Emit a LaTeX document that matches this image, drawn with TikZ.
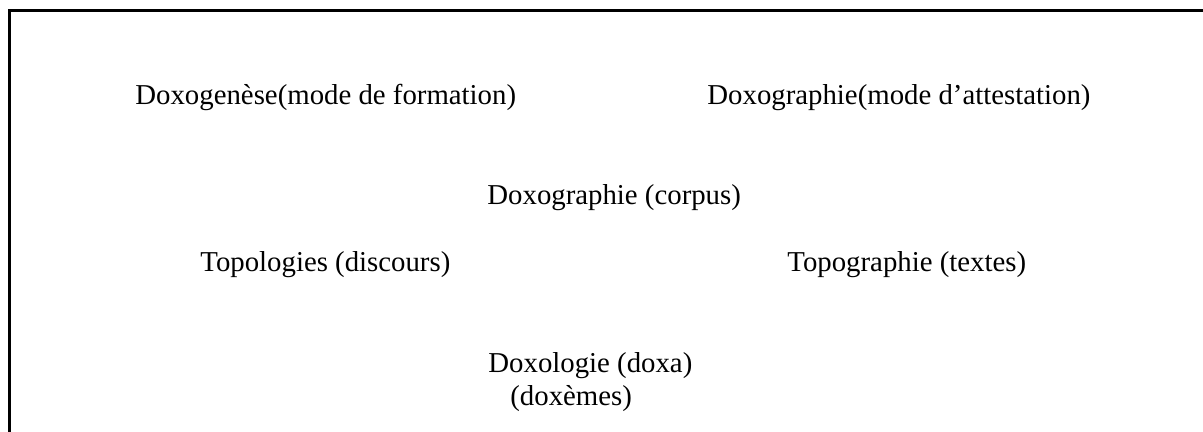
\documentclass[tikz,border=0pt]{standalone}
\usepackage{fontspec}
\setmainfont{Liberation Serif}
\tikzset{doxtext/.style={anchor=base west, inner sep=0pt, font=\fontsize{14.4}{17}\selectfont}}

\begin{document}
\begin{tikzpicture}[x=0.5pt, y=-0.5pt]
  %tikz  doxographie, cadre ouvert
    \pgfmathsetmacro{\w}{1203};
    \pgfmathsetmacro{\h}{432};
    \useasboundingbox (0,0) rectangle (\w, \h);
    \draw[line width=1.35pt] (9.8, \h) -- (9.8, 10.7) -- (\w, 10.7);
    \node[doxtext] (gen) at (135, 105) {Doxogenèse(mode de formation)};
    \node[doxtext] (attest) at (707, 105) {Doxographie(mode d’attestation)};
    \node[doxtext] (corpus) at (487, 205) {Doxographie (corpus)};
    \node[doxtext] (topol) at (200, 272) {Topologies (discours)};
    \node[doxtext] (topog) at (787, 272) {Topographie (textes)};
    \node[doxtext] (doxa) at (488, 372) {Doxologie (doxa)};
    \node[doxtext] (doxemes) at (510, 405) {(doxèmes)};
  \end{tikzpicture}
\end{document}
